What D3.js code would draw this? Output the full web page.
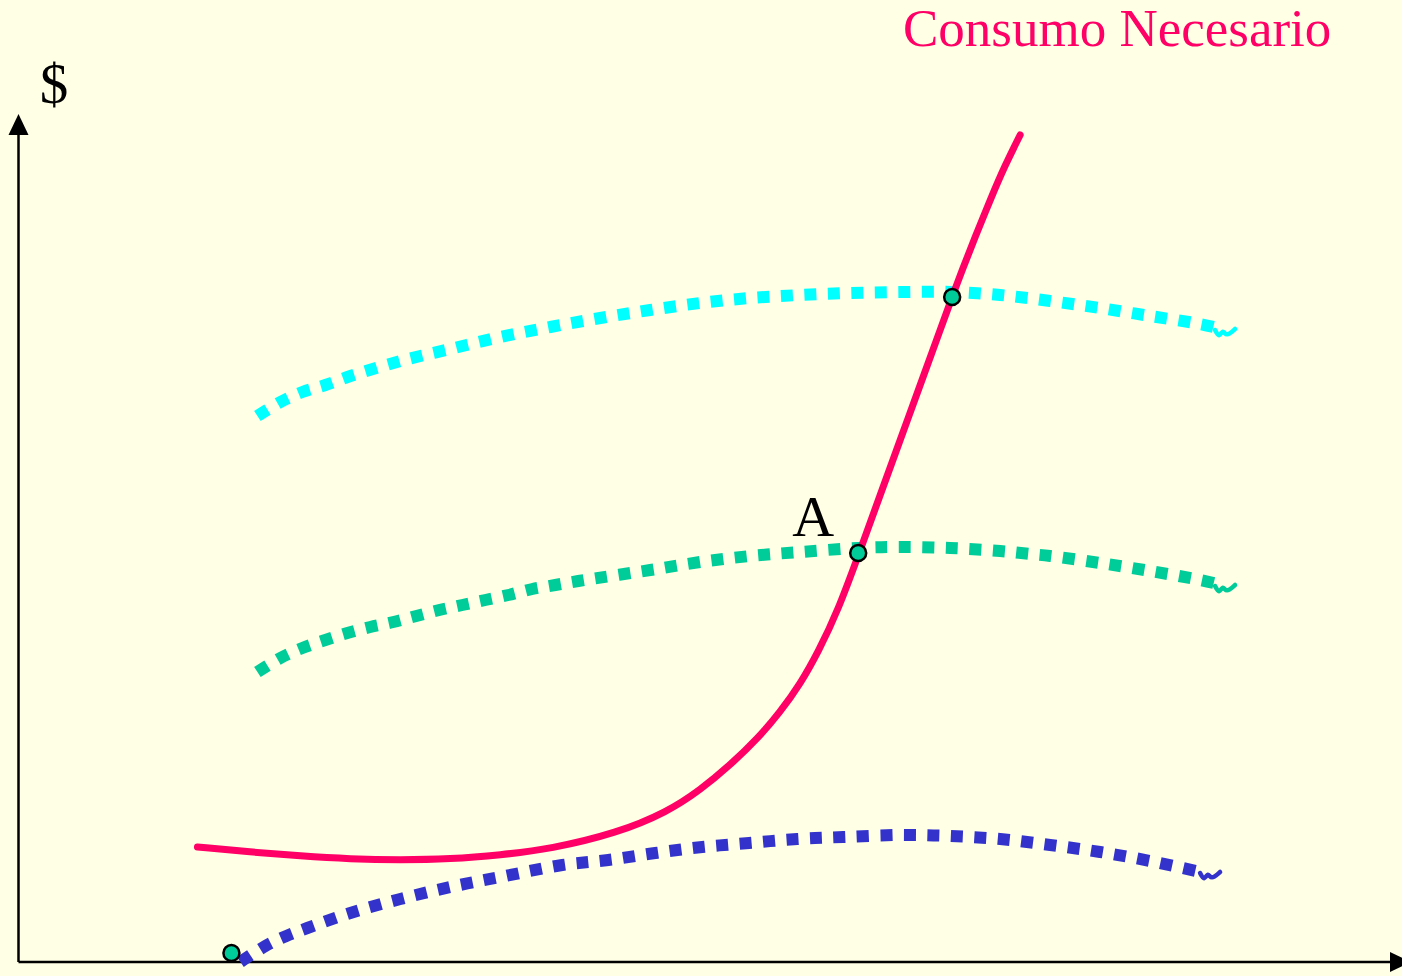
<!DOCTYPE html>
<html>
<head>
<meta charset="utf-8">
<script src="https://cdn.jsdelivr.net/npm/d3@7"></script>
<style>
  html, body { margin: 0; padding: 0; background: #FFFFE5; overflow: hidden; }
  text { font-family: "Liberation Serif", "Times New Roman", serif; }
</style>
</head>
<body>
<div id="wrapper"></div>
<script>
// 1. data (x, y in chart units)
const consumoNecesario = [
  [17.9, 11.5], [23.2, 11.0], [28.2, 10.6], [33.2, 10.3], [38.2, 10.2], [43.2, 10.3],
  [48.2, 10.7], [53.2, 11.3], [59.9, 12.9], [64.9, 15.0], [68.2, 17.2], [71.2, 19.7],
  [74.0, 22.4], [76.2, 25.0], [78.2, 27.8], [80.0, 31.0], [82.0, 35.2], [84.1, 40.9],
  [86.2, 46.7], [88.2, 52.2], [90.2, 57.7], [92.2, 63.2], [93.4, 66.5], [94.4, 69.2],
  [95.7, 72.5], [97.2, 76.2], [98.7, 79.7], [100.2, 82.7]
];
const curvaAlta = [
  [23.9, 54.6], [26.2, 56.0], [28.4, 57.0], [30.7, 57.7], [33.2, 58.6], [38.2, 60.1],
  [43.2, 61.3], [48.2, 62.5], [53.2, 63.5], [58.2, 64.4], [63.2, 65.2], [68.2, 65.9],
  [73.2, 66.4], [78.2, 66.7], [83.2, 66.9], [88.2, 67.0], [93.3, 67.0], [98.2, 66.7],
  [103.2, 66.1], [108.2, 65.4], [113.2, 64.6], [118.2, 63.8], [120.4, 63.3]
];
const curvaMedia = [
  [23.9, 29.0], [26.2, 30.4], [28.4, 31.4], [30.7, 32.2], [32.9, 32.9], [35.2, 33.5],
  [37.5, 34.0], [39.8, 34.6], [42.1, 35.2], [44.4, 35.7], [46.7, 36.2], [49.0, 36.7],
  [51.4, 37.3], [53.7, 37.7], [56.0, 38.1], [63.2, 39.2], [68.2, 40.0], [73.2, 40.6],
  [78.2, 41.0], [84.0, 41.4], [88.2, 41.5], [93.2, 41.4], [98.2, 41.1], [101.2, 40.8],
  [103.2, 40.6], [108.2, 39.9], [113.2, 39.1], [118.2, 38.2], [120.4, 37.7]
];
const curvaBaja = [
  [22.2, 0.0], [24.7, 1.6], [26.8, 2.6], [28.9, 3.4], [33.2, 4.9], [38.2, 6.3],
  [43.2, 7.5], [48.2, 8.5], [54.4, 9.7], [59.0, 10.2], [63.7, 10.9], [68.4, 11.5],
  [73.1, 11.9], [77.9, 12.3], [82.5, 12.5], [88.2, 12.7], [93.2, 12.6], [98.2, 12.3],
  [103.2, 11.7], [108.2, 11.0], [113.2, 10.1], [118.7, 8.9]
];
// little hand-drawn curls at the end of each dotted curve
const colaAlta = [[119.7, 63.2], [120.1, 62.4], [120.5, 63.3], [120.8, 62.5], [121.7, 63.3]];
const colaMedia = [[119.7, 37.6], [120.1, 36.8], [120.5, 37.7], [120.8, 36.9], [121.7, 37.7]];
const colaBaja = [[118.2, 8.9], [118.6, 8.1], [119.0, 9.0], [119.3, 8.2], [120.2, 9.0]];
const puntos = [[21.3, 0.9], [84.0, 40.9], [93.4, 66.5]];
const etiquetaCurva = "Consumo Necesario";
const etiquetaEje = "$";
const etiquetaPunto = "A";

// 2. dimensions
const width = 1402, height = 976;
const origin = { x: 18.5, y: 962 };

const svg = d3.select("#wrapper").append("svg")
  .attr("width", width)
  .attr("height", height)
  .style("display", "block")
  .style("background", "#FFFFE5");

// 3. scales
const x = d3.scaleLinear().domain([0, 138.4]).range([origin.x, 1402]);
const y = d3.scaleLinear().domain([0, 84.8]).range([origin.y, 114]);

// 4. axes
const axes = svg.append("g");
axes.append("line")
  .attr("x1", x(0)).attr("y1", y(0))
  .attr("x2", x(0)).attr("y2", y(83))
  .attr("stroke", "#000").attr("stroke-width", 2.5);
axes.append("path")
  .attr("d", `M${x(0)},${y(84.8)} L${x(0) - 10},${y(84.8) + 21} L${x(0) + 10},${y(84.8) + 21} Z`)
  .attr("fill", "#000");
axes.append("line")
  .attr("x1", x(0)).attr("y1", y(0))
  .attr("x2", 1392).attr("y2", y(0))
  .attr("stroke", "#000").attr("stroke-width", 2.5);
axes.append("path")
  .attr("d", `M1411,${y(0)} L1390,${y(0) - 10} L1390,${y(0) + 10} Z`)
  .attr("fill", "#000");

// 5. curves
const line = d3.line()
  .x(d => x(d[0]))
  .y(d => y(d[1]))
  .curve(d3.curveCatmullRom.alpha(0.5));

// b-spline for the solid curve, keeps the bend smooth
const smoothLine = d3.line()
  .x(d => x(d[0]))
  .y(d => y(d[1]))
  .curve(d3.curveBasis);

const dashed = [
  { data: curvaAlta, tail: colaAlta, color: "#00FFFF" },
  { data: curvaMedia, tail: colaMedia, color: "#00CC99" },
  { data: curvaBaja, tail: colaBaja, color: "#3333CC" }
];

const dashedG = svg.append("g");
dashedG.selectAll("path.dots")
  .data(dashed)
  .join("path")
  .attr("class", "dots")
  .attr("d", d => line(d.data))
  .attr("fill", "none")
  .attr("stroke", d => d.color)
  .attr("stroke-width", 12)
  .attr("stroke-dasharray", "12,11.5");

dashedG.selectAll("path.tail")
  .data(dashed)
  .join("path")
  .attr("class", "tail")
  .attr("d", d => smoothLine(d.tail))
  .attr("fill", "none")
  .attr("stroke", d => d.color)
  .attr("stroke-width", 4.5)
  .attr("stroke-linecap", "round");

svg.append("path")
  .attr("d", smoothLine(consumoNecesario))
  .attr("fill", "none")
  .attr("stroke", "#FF0066")
  .attr("stroke-width", 7)
  .attr("stroke-linecap", "round");

svg.append("g").selectAll("circle")
  .data(puntos)
  .join("circle")
  .attr("cx", d => x(d[0]))
  .attr("cy", d => y(d[1]))
  .attr("r", 8)
  .attr("fill", "#00CC99")
  .attr("stroke", "#000")
  .attr("stroke-width", 2.5);

// 6. labels
svg.append("text")
  .attr("x", 903).attr("y", 46)
  .attr("font-size", 53)
  .attr("fill", "#FF0066")
  .text(etiquetaCurva);

svg.append("text")
  .attr("x", 54).attr("y", 103)
  .attr("text-anchor", "middle")
  .attr("font-size", 57)
  .attr("fill", "#000")
  .text(etiquetaEje);

svg.append("text")
  .attr("x", x(puntos[1][0]) - 66).attr("y", y(puntos[1][1]) - 17)
  .attr("font-size", 58)
  .attr("fill", "#000")
  .text(etiquetaPunto);
</script>
</body>
</html>
